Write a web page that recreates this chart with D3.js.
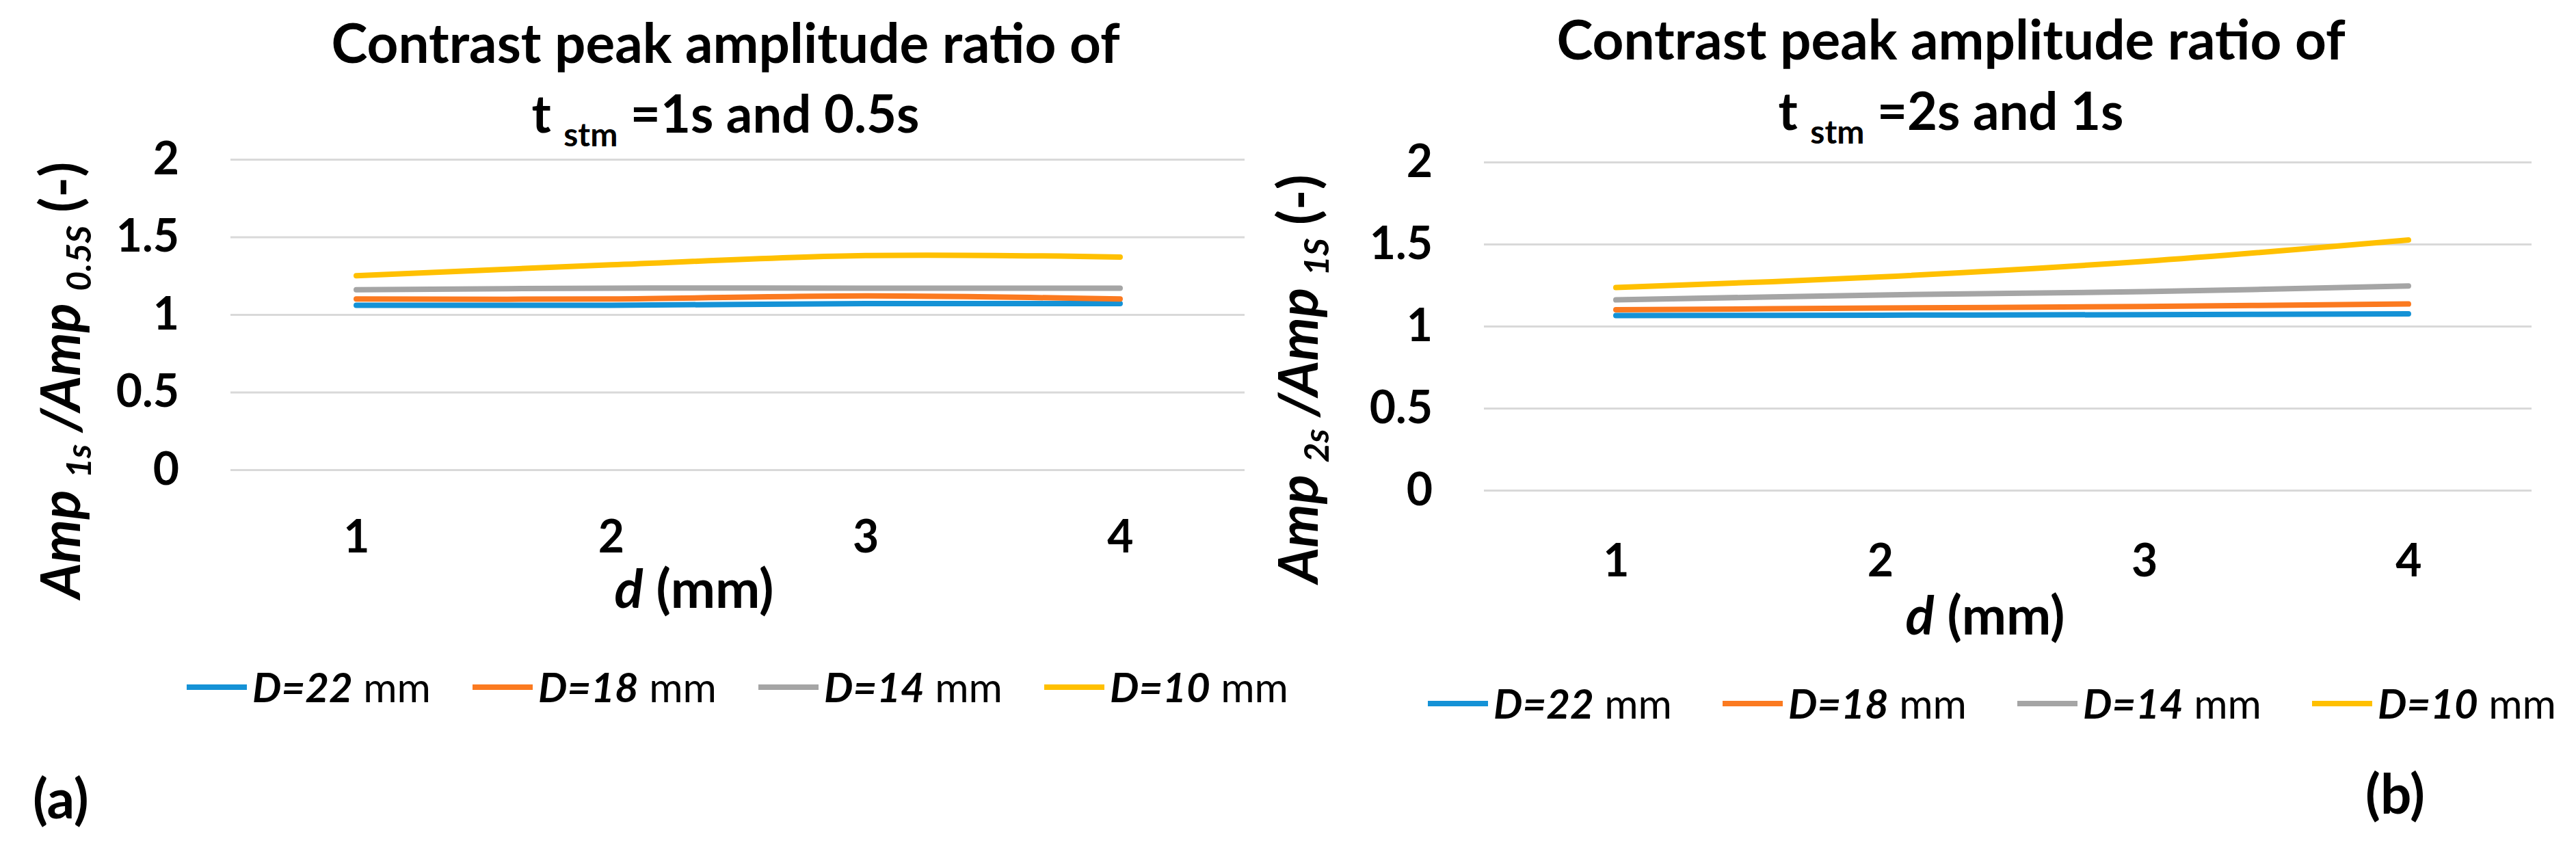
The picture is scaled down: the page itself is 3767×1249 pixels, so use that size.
<!DOCTYPE html>
<html>
<head>
<meta charset="utf-8">
<script src="https://cdn.jsdelivr.net/npm/d3@7"></script>
<style>
body { margin: 0; background: #fff; }
text { font-family: Lato, "Open Sans", sans-serif; fill: #000; }
</style>
</head>
<body>
<div id="chart"></div>
<script>
// d (mm) categories and series
const categories = [1, 2, 3, 4];
const seriesNames = ['D=22', 'D=18', 'D=14', 'D=10'];
const seriesColors = ['#1592d6', '#fb7a20', '#a5a5a5', '#ffc000'];
const yTicks = [0, 0.5, 1, 1.5, 2];

// (a) Amp1s / Amp0.5s
const ratioA_D22 = [1.06, 1.06, 1.07, 1.07];
const ratioA_D18 = [1.10, 1.10, 1.12, 1.10];
const ratioA_D14 = [1.16, 1.17, 1.17, 1.17];
const ratioA_D10 = [1.25, 1.32, 1.38, 1.37];

// (b) Amp2s / Amp1s
const ratioB_D22 = [1.065, 1.067, 1.07, 1.075];
const ratioB_D18 = [1.10, 1.11, 1.12, 1.135];
const ratioB_D14 = [1.16, 1.19, 1.21, 1.245];
const ratioB_D10 = [1.235, 1.30, 1.395, 1.525];

const width = 3767, height = 1249;

const svg = d3.select('#chart').append('svg')
    .attr('width', width)
    .attr('height', height);

const panels = [
    {
        series: [ratioA_D22, ratioA_D18, ratioA_D14, ratioA_D10],
        gridL: 337, gridR: 1820, xFirst: 521, xLast: 1638, y0: 687, y2: 233,
        xTickTop: 761, titleX: 1061, title1Y: 92, title2Y: 194, sub1: '=1s and 0.5s',
        yLabX: 117, yLabY: 556, subA: '1s', subB: '0.5S',
        xLabX: 1015, xLabY: 889, legY: 1005, legX: 273, legStep: 418,
        tag: '(a)', tagX: 48, tagY: 1197
    },
    {
        series: [ratioB_D22, ratioB_D18, ratioB_D14, ratioB_D10],
        gridL: 2170, gridR: 3702, xFirst: 2363, xLast: 3522, y0: 717, y2: 237,
        xTickTop: 796, titleX: 2853, title1Y: 87, title2Y: 190, sub1: '=2s and 1s',
        yLabX: 1927, yLabY: 554, subA: '2s', subB: '1S',
        xLabX: 2903, xLabY: 928, legY: 1029, legX: 2088, legStep: 431,
        tag: '(b)', tagX: 3459, tagY: 1190
    }
];

panels.forEach(p => {
    const g = svg.append('g');

    const x = d3.scalePoint().domain(categories).range([p.xFirst, p.xLast]);
    const y = d3.scaleLinear().domain([0, 2]).range([p.y0, p.y2]);

    // gridlines + y tick labels
    g.append('g')
        .attr('transform', `translate(${p.gridL},0)`)
        .call(d3.axisLeft(y).tickValues(yTicks).tickFormat(d3.format(''))
            .tickSize(-(p.gridR - p.gridL)).tickPadding(75))
        .call(a => a.select('.domain').remove())
        .call(a => a.selectAll('line').attr('stroke', '#d9d9d9').attr('stroke-width', 3))
        .call(a => a.selectAll('text')
            .attr('font-family', 'Lato, sans-serif')
            .attr('font-size', 66).attr('font-weight', 'bold').attr('fill', '#000'));

    // x tick labels
    g.append('g')
        .attr('transform', `translate(0,${p.xTickTop})`)
        .call(d3.axisBottom(x).tickSize(0).tickPadding(0))
        .call(a => a.select('.domain').remove())
        .call(a => a.selectAll('text')
            .attr('font-family', 'Lato, sans-serif')
            .attr('font-size', 66).attr('font-weight', 'bold').attr('fill', '#000'));

    // series lines
    const line = d3.line()
        .x((d, i) => x(categories[i]))
        .y(d => y(d))
        .curve(d3.curveCatmullRom.alpha(0.5));

    g.selectAll('.series')
        .data(p.series)
        .join('path')
        .attr('class', 'series')
        .attr('fill', 'none')
        .attr('stroke', (d, i) => seriesColors[i])
        .attr('stroke-width', 8)
        .attr('stroke-linecap', 'round')
        .attr('d', line);

    // title
    g.append('text')
        .attr('x', p.titleX).attr('y', p.title1Y)
        .attr('text-anchor', 'middle')
        .attr('font-size', 80).attr('font-weight', 'bold')
        .text('Contrast peak amplitude ratio of');

    const t2 = g.append('text')
        .attr('x', p.titleX).attr('y', p.title2Y)
        .attr('text-anchor', 'middle')
        .attr('font-size', 76).attr('font-weight', 'bold');
    t2.append('tspan').text('t ');
    t2.append('tspan').attr('font-size', 48).attr('dy', 20).text('stm');
    t2.append('tspan').attr('dy', -20).text(' ' + p.sub1);

    // y axis title
    const yl = g.append('text')
        .attr('transform', `translate(${p.yLabX},${p.yLabY}) rotate(-90)`)
        .attr('text-anchor', 'middle')
        .attr('font-size', 80).attr('font-weight', 'bold');
    yl.append('tspan').attr('font-style', 'italic').text('Amp ');
    yl.append('tspan').attr('font-style', 'italic').attr('font-size', 50).attr('dy', 16).text(p.subA);
    yl.append('tspan').attr('font-style', 'italic').attr('dy', -16).text(' /Amp ');
    yl.append('tspan').attr('font-style', 'italic').attr('font-size', 50).attr('dy', 16).text(p.subB);
    yl.append('tspan').attr('dy', -16).text(' (-)');

    // x axis title
    const xl = g.append('text')
        .attr('x', p.xLabX).attr('y', p.xLabY)
        .attr('text-anchor', 'middle')
        .attr('font-size', 78).attr('font-weight', 'bold');
    xl.append('tspan').attr('font-style', 'italic').text('d');
    xl.append('tspan').text(' (mm)');

    // legend
    const leg = g.selectAll('.leg')
        .data(seriesNames)
        .join('g')
        .attr('class', 'leg')
        .attr('transform', (d, i) => `translate(${p.legX + i * p.legStep},${p.legY})`);
    leg.append('line')
        .attr('x1', 0).attr('x2', 88)
        .attr('stroke', (d, i) => seriesColors[i])
        .attr('stroke-width', 8);
    const lt = leg.append('text')
        .attr('x', 96).attr('dy', '0.36em')
        .attr('font-size', 60);
    lt.append('tspan').attr('font-style', 'italic').attr('font-weight', 'bold').text(d => d);
    lt.append('tspan').text(' mm');

    // panel tag
    g.append('text')
        .attr('x', p.tagX).attr('y', p.tagY)
        .attr('font-size', 80).attr('font-weight', 'bold')
        .text(p.tag);
});
</script>
</body>
</html>
